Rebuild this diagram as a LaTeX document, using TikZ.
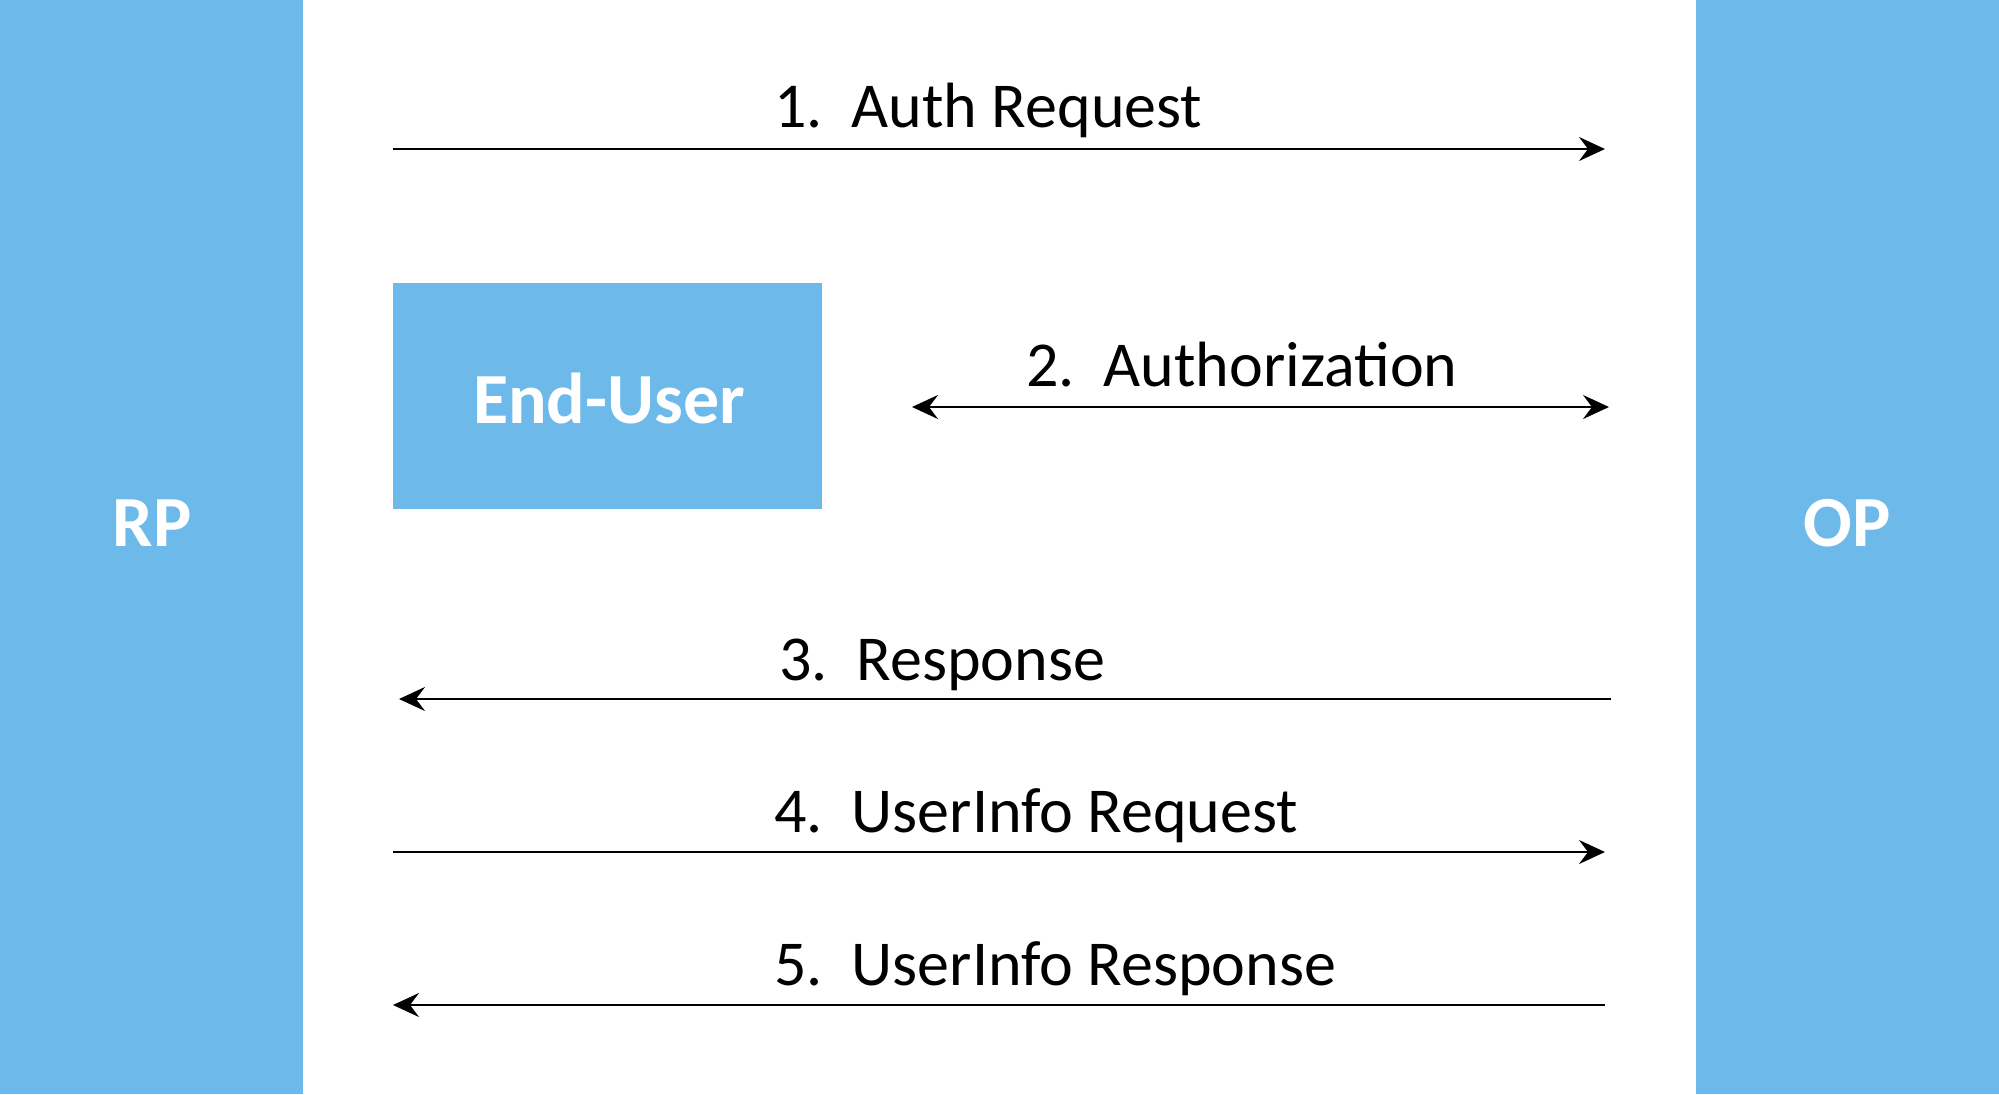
\documentclass[tikz,border=0pt]{standalone}
\usepackage{fontspec}
\setmainfont{Carlito}
\usetikzlibrary{arrows.meta}
\definecolor{band}{HTML}{6CB9EA}
\tikzset{
  lbl/.style={anchor=base west, inner sep=0pt, font=\fontsize{32pt}{36pt}\selectfont},
  tip/.tip={Stealth[length=13pt,width=12pt,inset=4.5pt]},
  msg/.style={line width=1.25pt, -tip},
  bimsg/.style={line width=1.25pt, tip-tip},
  party/.style={fill=band, draw=none, text=white, font=\bfseries\fontsize{36pt}{40pt}\selectfont, inner sep=0pt},
}
\newcommand{\nsp}{\hspace{0.45em}}
\begin{document}
\begin{tikzpicture}[x=0.5pt,y=-0.5pt]
\useasboundingbox (0,0) rectangle (1999,1094);
\fill[white] (0,0) rectangle (1999,1094);
% bands
\node[party, minimum width=151.5pt, minimum height=547pt] (rp) at (151.5,547) {};
\node[party, minimum width=151.5pt, minimum height=547pt] (op) at (1847.5,547) {};
\node[text=white, font=\bfseries\fontsize{36pt}{40pt}\selectfont, inner sep=0pt] (rpt) at (152,523) {RP};
\node[text=white, font=\bfseries\fontsize{36pt}{40pt}\selectfont, inner sep=0pt] (opt) at (1847,523) {OP};
% end user
\node[fill=band, draw=none, minimum width=214.5pt, minimum height=113pt, inner sep=0pt] (eu) at (607.5,396) {};
\node[text=white, font=\bfseries\fontsize{36pt}{40pt}\selectfont, inner sep=0pt] (eut) at (609,398) {End-User};
% coordinates
\coordinate (a1s) at (393,149); \coordinate (a1e) at (1605,149);
\coordinate (a2s) at (912,407); \coordinate (a2e) at (1609,407);
\coordinate (a3s) at (1611,699); \coordinate (a3e) at (399,699);
\coordinate (a4s) at (393,852); \coordinate (a4e) at (1605,852);
\coordinate (a5s) at (1605,1005); \coordinate (a5e) at (393,1005);
\draw[msg] (a1s) -- (a1e);
\draw[bimsg] (a2s) -- (a2e);
\draw[msg] (a3s) -- (a3e);
\draw[msg] (a4s) -- (a4e);
\draw[msg] (a5s) -- (a5e);
% labels
\node[lbl] (l1) at (774,127) {1.\nsp Auth Request};
\node[lbl] (l2) at (1026,386) {2.\nsp Authorization};
\node[lbl] (l3) at (779,680) {3.\nsp Response};
\node[lbl] (l4) at (774,832) {4.\nsp UserInfo Request};
\node[lbl] (l5) at (774,985) {5.\nsp UserInfo Response};
\end{tikzpicture}
\end{document}
